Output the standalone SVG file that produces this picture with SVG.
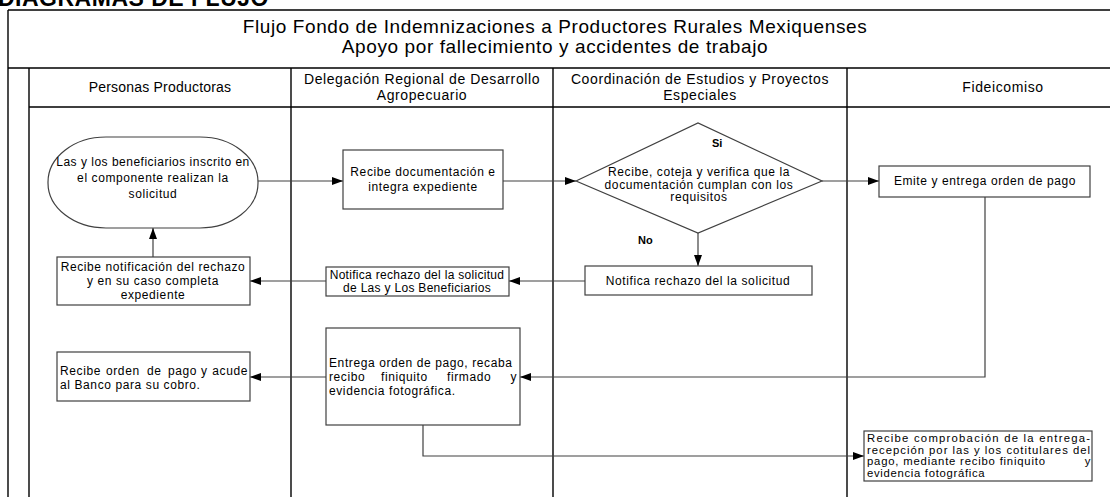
<svg xmlns="http://www.w3.org/2000/svg" width="1110" height="497" viewBox="0 0 1110 497">
<style>
text{font-family:"Liberation Sans",Arial,sans-serif;fill:#000}
.n{font-size:12px;letter-spacing:0.6px}
.s{font-size:11.3px;letter-spacing:0.7px}
.j{letter-spacing:0}
.h{font-size:14px;letter-spacing:0.6px}
.t{font-size:19px;letter-spacing:0.6px}
.c{text-anchor:middle}
.e{text-anchor:end}
.box{fill:#fff;stroke:#404040;stroke-width:1.2}
.lane{stroke:#000;stroke-width:1.4;fill:none}
.con{stroke:#404040;stroke-width:1.2;fill:none}
.lbl{font-size:11px;font-weight:bold}
</style>
<defs>
<marker id="ah" markerWidth="11" markerHeight="8" refX="11" refY="4" orient="auto" markerUnits="userSpaceOnUse">
<path d="M0,0 L11,4 L0,8 Z" fill="#000"/>
</marker>
</defs>
<rect width="1110" height="497" fill="#fff"/>
<text x="-2" y="6" style="font-size:23px;font-weight:bold;letter-spacing:0.5px">DIAGRAMAS DE FLUJO</text>
<g id="frame">
<path class="lane" d="M8,10 H1110 M8,10 V497 M8,68 H1110 M29,107 H1110 M29,68 V497 M291,68 V497 M553,68 V497 M847,68 V497"/>
<text class="t c" x="555" y="33">Flujo Fondo de Indemnizaciones a Productores Rurales Mexiquenses</text>
<text class="t c" x="555" y="53">Apoyo por fallecimiento y accidentes de trabajo</text>
</g>
<g id="headers">
<text class="h c" x="160" y="92" style="letter-spacing:0.2px">Personas Productoras</text>
<text class="h c" x="422" y="84">Delegación Regional de Desarrollo</text>
<text class="h c" x="422" y="100">Agropecuario</text>
<text class="h c" x="700" y="84">Coordinación de Estudios y Proyectos</text>
<text class="h c" x="700" y="100">Especiales</text>
<text class="h c" x="1003" y="92">Fideicomiso</text>
</g>
<g id="connectors">
<line class="con" x1="258" y1="181" x2="343" y2="181" marker-end="url(#ah)"/>
<line class="con" x1="503" y1="181" x2="576" y2="181" marker-end="url(#ah)"/>
<line class="con" x1="822" y1="181" x2="879" y2="181" marker-end="url(#ah)"/>
<line class="con" x1="698" y1="233" x2="698" y2="266" marker-end="url(#ah)"/>
<line class="con" x1="585" y1="281" x2="509" y2="281" marker-end="url(#ah)"/>
<line class="con" x1="326" y1="281" x2="250" y2="281" marker-end="url(#ah)"/>
<line class="con" x1="153" y1="257" x2="153" y2="228" marker-end="url(#ah)"/>
<polyline class="con" points="985,197 985,377 520,377" marker-end="url(#ah)"/>
<line class="con" x1="326" y1="377" x2="250" y2="377" marker-end="url(#ah)"/>
<polyline class="con" points="423,425 423,456 864,456" marker-end="url(#ah)"/>
</g>
<g id="n1">
<rect class="box" x="48" y="137" width="210" height="91" rx="58" ry="45"/>
<text class="n c" x="153" y="166" style="letter-spacing:0.5px">Las y los beneficiarios inscrito en</text>
<text class="n c" x="153" y="182">el componente realizan la</text>
<text class="n c" x="153" y="198">solicitud</text>
</g>
<g id="n2">
<rect class="box" x="343" y="150" width="160" height="59"/>
<text class="n c" x="423" y="176">Recibe documentación e</text>
<text class="n c" x="423" y="191">integra expediente</text>
</g>
<g id="n3">
<polygon class="box" points="576,181 698,123 822,181 698,233"/>
<text class="n c" x="699" y="176">Recibe, coteja y verifica que la</text>
<text class="n c" x="699" y="189">documentación cumplan con los</text>
<text class="n c" x="699" y="201">requisitos</text>
<text class="lbl" x="712" y="147">Si</text>
<text class="lbl" x="638" y="244">No</text>
</g>
<g id="n4">
<rect class="box" x="879" y="166" width="211" height="31"/>
<text class="n c" x="985" y="185">Emite y entrega orden de pago</text>
</g>
<g id="n5">
<rect class="box" x="585" y="266" width="227" height="29"/>
<text class="n c" x="698" y="285">Notifica rechazo del la solicitud</text>
</g>
<g id="n6">
<rect class="box" x="326" y="267" width="183" height="29"/>
<text class="n c" x="417" y="279" style="letter-spacing:0.3px">Notifica rechazo del la solicitud</text>
<text class="n c" x="417" y="292" style="letter-spacing:0.3px">de Las y Los Beneficiarios</text>
</g>
<g id="n7">
<rect class="box" x="57" y="257" width="193" height="48"/>
<text class="n c" x="153" y="271">Recibe notificación del rechazo</text>
<text class="n c" x="153" y="285">y en su caso completa</text>
<text class="n c" x="153" y="299">expediente</text>
</g>
<g id="n8">
<rect class="box" x="57" y="352" width="193" height="49"/>
<text class="n" y="375"><tspan x="60">Recibe</tspan><tspan x="106">orden</tspan><tspan x="147">de</tspan><tspan x="168">pago</tspan><tspan x="201">y</tspan></text>
<text class="n e" x="248" y="375">acude</text>
<text class="n" x="60" y="389">al Banco para su cobro.</text>
</g>
<g id="n9">
<rect class="box" x="326" y="328" width="194" height="97"/>
<text class="n" x="329" y="367">Entrega orden de pago, recaba</text>
<text class="n" y="381"><tspan x="329">recibo</tspan><tspan x="381">finiquito</tspan><tspan x="447">firmado</tspan></text>
<text class="n e" x="517" y="381">y</text>
<text class="n" x="329" y="395">evidencia fotográfica.</text>
</g>
<g id="n10">
<rect class="box" x="864" y="431" width="228" height="50"/>
<text class="s j" x="867" y="442" textLength="223" lengthAdjust="spacing">Recibe comprobación de la entrega-</text>
<text class="s j" x="867" y="453.5" textLength="223" lengthAdjust="spacing">recepción por las y los cotitulares del</text>
<text class="s j" x="867" y="465" textLength="178" lengthAdjust="spacing">pago, mediante recibo finiquito</text>
<text class="s e" x="1091" y="465">y</text>
<text class="s" x="867" y="476.5">evidencia fotográfica</text>
</g>
</svg>
